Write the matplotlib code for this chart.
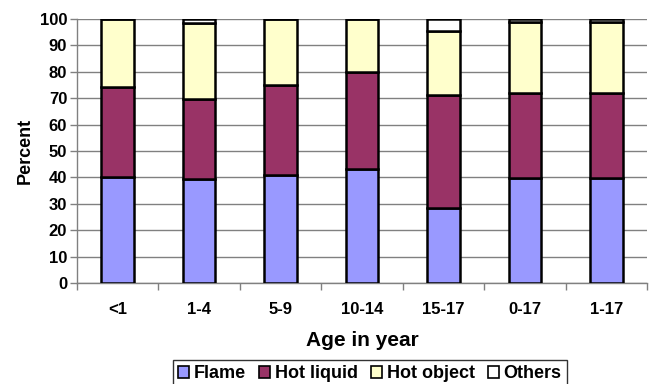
import numpy as np
import matplotlib
matplotlib.use('Agg')
import matplotlib.pyplot as plt

plt.rcParams['font.family'] = ['Liberation Sans', 'DejaVu Sans']
plt.rcParams['font.weight'] = 'bold'

ages = ['<1', '1-4', '5-9', '10-14', '15-17', '0-17', '1-17']
flame = [40.1, 39.5, 40.9, 43.0, 28.5, 39.8, 39.8]
hot_liquid = [34.0, 30.2, 34.0, 36.8, 42.9, 32.2, 32.2]
hot_object = [25.9, 28.8, 25.1, 20.2, 23.9, 27.0, 27.0]
others = [0.0, 1.5, 0.0, 0.0, 4.7, 1.0, 1.0]

series = [('Flame', flame, '#9999FF'),
          ('Hot liquid', hot_liquid, '#993366'),
          ('Hot object', hot_object, '#FFFFCC'),
          ('Others', others, '#FFFFFF')]

fig = plt.figure(figsize=(6.49, 3.84), dpi=100)
ax = fig.add_axes([0.1186, 0.263, 0.8784, 0.6875])

x = np.arange(len(ages))
bottom = np.zeros(len(ages))
handles = []
for name, vals, col in series:
    vals = np.array(vals)
    b = ax.bar(x, vals, 0.4, bottom=bottom, color=col, edgecolor='black',
               linewidth=1.8, label=name, zorder=3)
    handles.append(b)
    bottom += vals

ax.set_xlim(-0.5, len(ages) - 0.5)
ax.set_ylim(0, 100)
ax.set_yticks(range(0, 101, 10))
ax.yaxis.grid(True, color='#808080', linewidth=1.0, zorder=0)

# labels centred under the bars, tick marks between categories
ax.set_xticks(x)
ax.set_xticklabels(ages)
ax.set_xticks(np.arange(-0.5, len(ages)), minor=True)
ax.tick_params(axis='x', which='major', length=0, pad=14, labelsize=12)
ax.tick_params(axis='x', which='minor', length=5, color='#808080', width=1)
ax.tick_params(axis='y', length=5, color='#808080', width=1, labelsize=12, pad=2)

for s in ['top', 'right']:
    ax.spines[s].set_visible(False)
for s in ['left', 'bottom']:
    ax.spines[s].set_color('#808080')
    ax.spines[s].set_linewidth(1.0)

ax.set_ylabel('Percent', fontsize=13, fontweight='bold', labelpad=4)
ax.set_xlabel('Age in year', fontsize=15, fontweight='bold', labelpad=10)

leg = fig.legend(handles=handles, loc='lower center', bbox_to_anchor=(0.57, -0.01),
                 ncol=4, fontsize=13, frameon=True, fancybox=False,
                 handlelength=0.6, handleheight=0.6, handletextpad=0.25,
                 columnspacing=0.75, borderpad=0.3, borderaxespad=0)
leg.get_frame().set_edgecolor('black')
leg.get_frame().set_linewidth(1.0)
for h in leg.legend_handles:
    h.set_linewidth(1.2)

fig.savefig('out.png', dpi=100)
